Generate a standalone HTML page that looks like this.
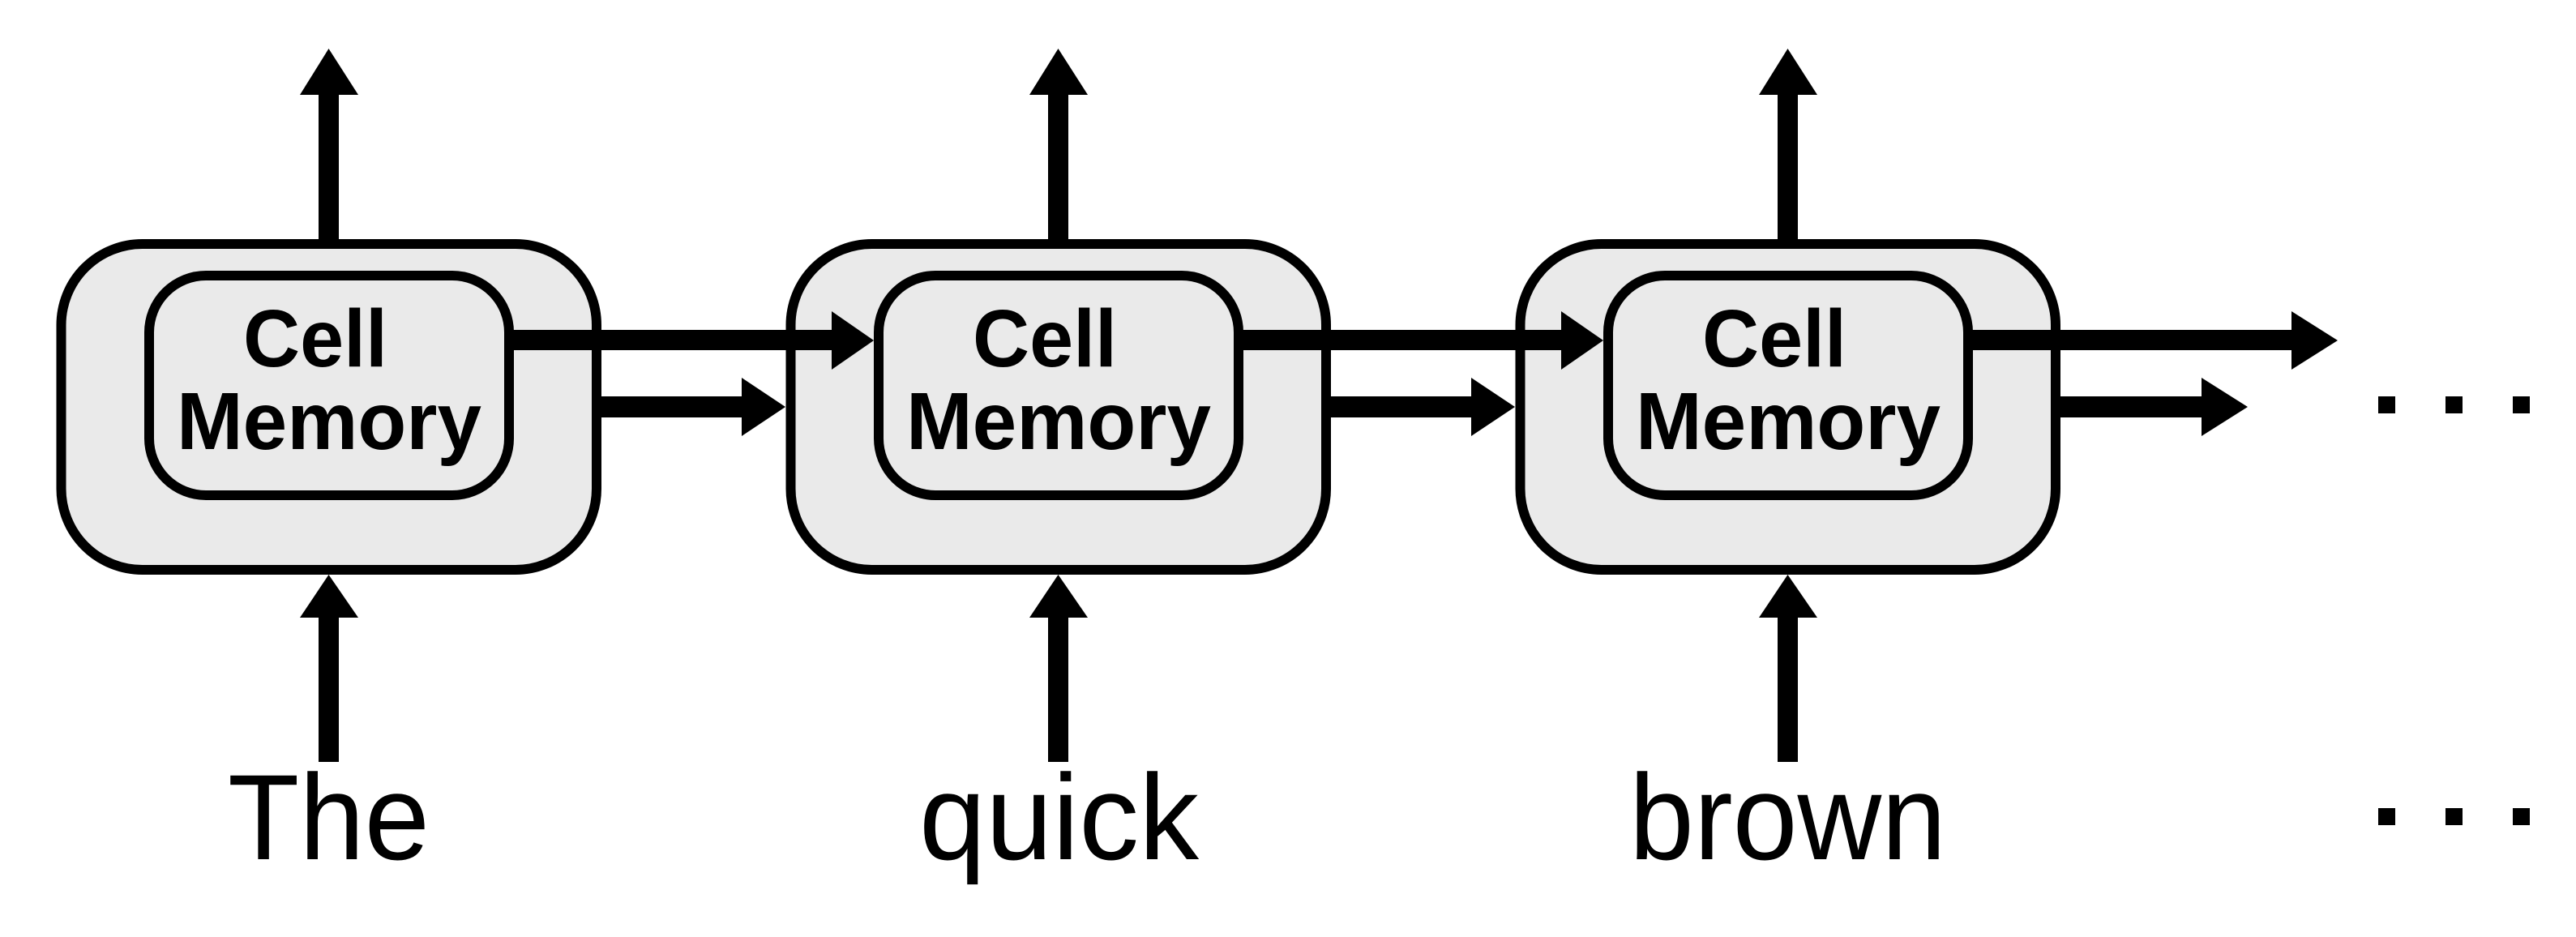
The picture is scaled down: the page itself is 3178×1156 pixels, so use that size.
<!DOCTYPE html>
<html><head><meta charset="utf-8"><style>
html,body{margin:0;padding:0;background:#fff;}
svg{display:block;}
text{font-family:"Liberation Sans",Arial,sans-serif;fill:#000;}
</style></head><body>
<svg width="3178" height="1156" viewBox="0 0 3178 1156" xmlns="http://www.w3.org/2000/svg">
<defs>
<g id="cell">
  <rect x="393" y="112" width="25" height="192"/>
  <polygon points="405.5,60 370,117 442,117"/>
  <rect x="75.5" y="301" width="660.5" height="402" rx="100" ry="100" fill="#eaeaea" stroke="#000" stroke-width="12"/>
  <rect x="184" y="340" width="444" height="271" rx="70" ry="70" fill="#eaeaea" stroke="#000" stroke-width="12"/>
  <text x="300" y="452" font-size="100" font-weight="bold" textLength="178" lengthAdjust="spacingAndGlyphs">Cell</text>
  <text x="218" y="554" font-size="100" font-weight="bold" textLength="376" lengthAdjust="spacingAndGlyphs">Memory</text>
  <rect x="393" y="755" width="25" height="185"/>
  <polygon points="405.5,709 370,762 442,762"/>
</g>
</defs>
<use href="#cell" x="0"/>
<use href="#cell" x="900"/>
<use href="#cell" x="1800"/>

<rect x="628" y="407" width="400" height="25"/>
<polygon points="1026,384 1078,420 1026,456"/>
<rect x="742" y="489" width="175" height="26"/>
<polygon points="915,466 969,502 915,538"/>
<rect x="1528" y="407" width="400" height="25"/>
<polygon points="1926,384 1978,420 1926,456"/>
<rect x="1642" y="489" width="175" height="26"/>
<polygon points="1815,466 1869,502 1815,538"/>
<rect x="2428" y="407" width="401" height="25"/>
<polygon points="2827,384 2884,420 2827,456"/>
<rect x="2542" y="489" width="176" height="26"/>
<polygon points="2716,466 2773,502 2716,538"/>

<rect x="2934" y="489" width="21" height="21"/>
<rect x="3017" y="489" width="21" height="21"/>
<rect x="3100" y="489" width="21" height="21"/>
<rect x="2934" y="997" width="21" height="21"/>
<rect x="3017" y="997" width="21" height="21"/>
<rect x="3100" y="997" width="21" height="21"/>

<text x="281" y="1060" font-size="150" textLength="249" lengthAdjust="spacingAndGlyphs">The</text>
<text x="1134" y="1060" font-size="150" textLength="345" lengthAdjust="spacingAndGlyphs">quick</text>
<text x="2010" y="1060" font-size="150" textLength="391" lengthAdjust="spacingAndGlyphs">brown</text>
</svg>
</body></html>
